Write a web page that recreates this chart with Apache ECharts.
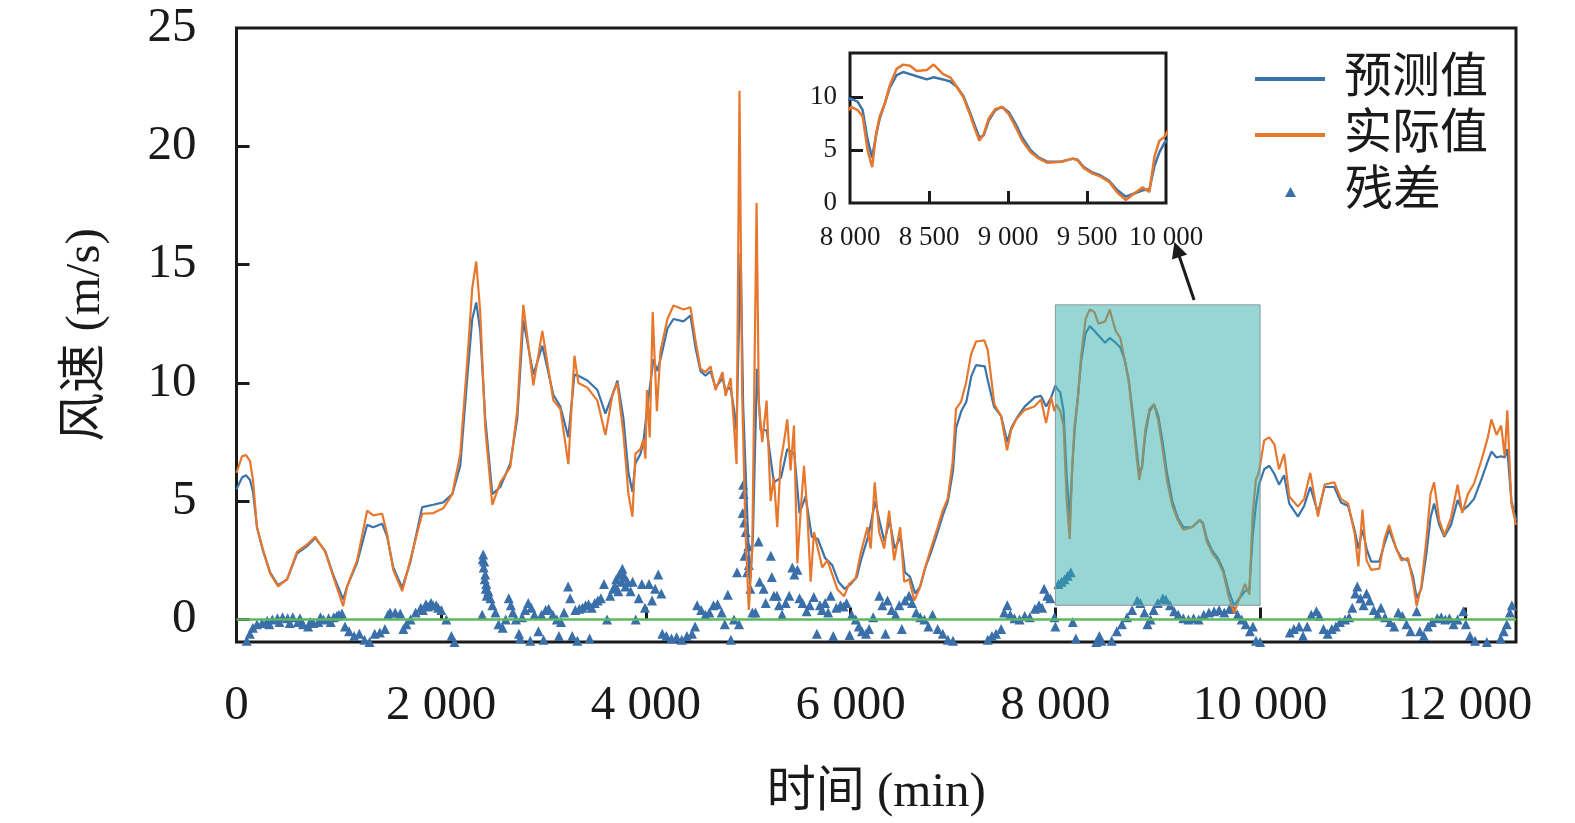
<!DOCTYPE html>
<html>
<head>
<meta charset="utf-8">
<script src="https://cdn.jsdelivr.net/npm/echarts@6/dist/echarts.min.js"></script>
<style>html,body{margin:0;padding:0;background:#fff}#c{width:1575px;height:823px}</style>
</head>
<body>
<div id="c"></div>
<script>
// ---- data (time in min, wind speed in m/s) ----
const xTickLabels = [0, 2000, 4000, 6000, 8000, 10000, 12000];
const yTickLabels = [0, 5, 10, 15, 20, 25];
const insetXTickLabels = [8000, 8500, 9000, 9500, 10000];
const insetYTickLabels = [0, 5, 10];
const seriesNames = ['预测值', '实际值', '残差'];

const actual = [
[0,6.2],[54,6.9],[93,6.95],[132,6.7],[161,5.9],[200,3.9],[259,2.96],[328,1.95],[406,1.4],[494,1.7],[592,2.87],[690,3.17],[768,3.5],[866,2.87],[944,1.83],[1042,0.57],[1081,1.4],[1178,2.5],[1276,4.6],[1335,4.4],[1423,4.47],[1472,3.6],[1531,2.1],[1619,1.2],[1697,2.5],[1814,4.47],[1922,4.5],[2020,4.7],[2108,5.3],[2186,7.0],[2254,10.9],[2303,14.0],[2342,15.13],[2381,13.0],[2430,8.1],[2499,4.85],[2577,5.8],[2675,6.44],[2743,8.84],[2802,13.3],[2900,9.9],[2988,12.2],[3095,9.26],[3164,8.9],[3242,6.57],[3301,11.15],[3340,10.0],[3428,9.8],[3526,9.25],[3604,7.8],[3673,9.5],[3721,10.0],[3780,7.84],[3829,5.3],[3868,4.35],[3897,7.0],[3946,7.2],[3975,7.6],[3995,6.8],[4010,9.7],[4037,7.7],[4066,13.0],[4107,8.8],[4142,11.35],[4210,12.7],[4269,13.27],[4367,13.1],[4435,13.2],[4484,11.8],[4533,10.6],[4582,10.45],[4631,10.7],[4680,9.7],[4748,10.45],[4778,9.45],[4827,10.2],[4856,8.46],[4885,6.57],[4914,22.35],[4940,9.5],[4973,3.7],[5005,0.4],[5039,3.0],[5081,17.6],[5103,9.1],[5136,7.5],[5179,9.25],[5218,5.0],[5250,6.0],[5283,3.9],[5315,6.65],[5348,7.5],[5381,8.46],[5413,6.3],[5446,8.2],[5479,2.37],[5511,4.55],[5544,6.5],[5576,4.55],[5609,1.6],[5642,3.7],[5674,3.1],[5723,2.2],[5772,2.5],[5821,1.9],[5870,1.28],[5935,0.98],[5984,1.5],[6049,1.74],[6098,2.8],[6164,3.9],[6196,3.0],[6235,5.8],[6278,3.7],[6327,3.0],[6376,4.6],[6425,2.5],[6484,3.9],[6523,1.6],[6572,1.7],[6621,0.8],[6670,1.28],[6719,2.07],[6784,3.0],[6850,3.9],[6899,4.6],[6947,5.1],[6996,6.65],[7029,8.9],[7078,9.2],[7127,10.0],[7176,11.2],[7225,11.75],[7306,11.8],[7339,11.4],[7404,9.1],[7469,8.6],[7528,7.15],[7567,8.0],[7616,8.45],[7697,8.85],[7795,9.0],[7860,9.3],[7909,8.3],[7958,9.4],[7990,8.8],
[8008,9.1],[8048,8.8],[8080,8.2],[8111,5.0],[8140,3.4],[8166,6.6],[8188,8.2],[8220,9.4],[8251,11.1],[8295,12.7],[8336,13.1],[8380,13.0],[8422,12.5],[8486,12.6],[8530,13.1],[8589,12.2],[8634,11.9],[8676,11.0],[8718,10.0],[8761,8.3],[8793,6.9],[8819,5.9],[8846,6.5],[8878,8.0],[8920,8.9],[8963,9.1],[9005,8.4],[9048,7.2],[9090,5.9],[9143,4.8],[9196,4.2],[9250,3.8],[9335,3.9],[9410,4.2],[9440,4.05],[9480,3.3],[9533,2.8],[9586,2.5],[9640,2.0],[9693,0.97],[9746,0.28],[9799,0.9],[9852,1.5],[9895,1.05],[9927,4.4],[9958,5.9],[9990,6.25],
[10040,7.57],[10090,7.7],[10140,7.4],[10185,6.35],[10235,7.0],[10285,5.2],[10370,4.77],[10430,5.1],[10490,6.2],[10565,4.35],[10630,5.7],[10725,5.8],[10790,5.1],[10860,4.9],[10925,3.6],[10960,2.25],[11000,4.65],[11040,2.5],[11085,2.1],[11165,2.15],[11215,3.4],[11260,4.0],[11330,3.0],[11380,2.5],[11445,2.6],[11495,1.55],[11530,0.57],[11575,1.4],[11625,3.4],[11665,5.3],[11700,5.8],[11750,4.2],[11800,3.56],[11865,4.3],[11930,5.7],[11975,4.5],[12030,5.3],[12090,5.75],[12160,6.7],[12225,7.7],[12260,8.46],[12310,7.8],[12355,8.2],[12390,6.9],[12415,8.84],[12455,4.9],[12500,4.0]
];

const predicted = [
[0,5.5],[54,6.0],[93,6.1],[132,5.9],[161,5.4],[200,3.9],[259,2.9],[328,2.0],[406,1.45],[494,1.7],[592,2.8],[690,3.1],[768,3.45],[866,2.9],[944,1.9],[1042,0.85],[1081,1.4],[1178,2.4],[1276,4.0],[1335,3.9],[1423,4.05],[1472,3.5],[1531,2.2],[1619,1.35],[1697,2.4],[1814,4.75],[1922,4.85],[2020,4.95],[2108,5.3],[2186,6.5],[2254,10.2],[2303,12.7],[2342,13.4],[2381,12.2],[2430,8.5],[2499,5.3],[2577,5.6],[2675,6.6],[2743,8.5],[2802,12.66],[2900,10.35],[2988,11.57],[3095,9.5],[3164,9.0],[3242,7.7],[3301,10.35],[3340,10.3],[3428,10.1],[3526,9.7],[3604,8.7],[3673,9.5],[3721,10.1],[3780,8.5],[3829,6.2],[3868,5.4],[3897,6.6],[3946,7.0],[3975,7.5],[4014,9.0],[4073,11.0],[4112,10.5],[4142,11.0],[4210,12.3],[4269,12.7],[4367,12.6],[4435,12.85],[4484,11.5],[4533,10.5],[4582,10.3],[4631,10.5],[4680,9.8],[4748,10.2],[4778,9.7],[4827,9.8],[4856,9.0],[4885,8.0],[4925,15.5],[4950,9.0],[4985,5.0],[5015,1.5],[5045,3.5],[5085,10.6],[5120,8.0],[5180,8.0],[5250,5.8],[5320,6.0],[5380,7.2],[5450,7.0],[5500,4.5],[5560,5.2],[5620,3.5],[5680,3.4],[5750,2.6],[5820,2.3],[5880,1.6],[5940,1.3],[6000,1.5],[6060,1.8],[6100,2.5],[6170,3.5],[6240,5.0],[6290,4.0],[6330,3.3],[6380,4.2],[6430,3.0],[6490,3.5],[6530,2.0],[6580,1.8],[6630,1.1],[6680,1.4],[6730,2.2],[6790,2.9],[6850,3.7],[6900,4.4],[6950,5.0],[7000,6.3],[7030,8.1],[7080,8.8],[7130,9.2],[7180,10.3],[7225,10.75],[7310,10.7],[7340,10.1],[7400,9.0],[7470,8.6],[7530,7.5],[7570,8.1],[7620,8.5],[7700,9.0],[7800,9.4],[7860,9.45],[7910,9.0],[7960,9.4],[8000,9.9],
[8008,9.8],[8048,9.6],[8080,8.8],[8111,6.0],[8140,4.3],[8166,6.5],[8188,8.0],[8220,9.4],[8251,10.9],[8295,12.1],[8336,12.4],[8380,12.2],[8422,12.0],[8486,11.7],[8530,11.9],[8589,11.7],[8634,11.5],[8676,11.0],[8718,10.1],[8761,8.5],[8793,7.2],[8819,6.2],[8846,6.4],[8878,7.8],[8920,8.8],[8963,9.1],[9005,8.6],[9048,7.5],[9090,6.2],[9143,5.0],[9196,4.3],[9250,3.9],[9335,3.9],[9410,4.2],[9440,4.1],[9480,3.4],[9533,2.9],[9586,2.6],[9640,2.1],[9693,1.2],[9746,0.6],[9799,0.9],[9852,1.2],[9895,1.3],[9927,3.5],[9958,4.8],[9990,5.7],
[10040,6.35],[10090,6.5],[10140,6.15],[10185,5.7],[10235,6.1],[10285,4.9],[10370,4.35],[10430,4.8],[10490,5.6],[10565,4.5],[10630,5.6],[10725,5.6],[10790,4.95],[10860,4.8],[10925,3.75],[10960,3.0],[11000,3.8],[11040,3.0],[11085,2.45],[11165,2.45],[11215,3.2],[11260,3.8],[11330,3.0],[11380,2.6],[11445,2.5],[11495,1.8],[11530,0.9],[11575,1.3],[11625,2.8],[11665,4.3],[11700,4.9],[11750,4.0],[11800,3.5],[11865,4.0],[11930,5.05],[11975,4.6],[12030,4.8],[12090,5.1],[12160,5.9],[12225,6.7],[12260,7.1],[12310,6.85],[12355,6.9],[12390,6.85],[12415,7.2],[12455,5.0],[12500,4.2]
];

const residual = [
[0,-1.3],[50,-1.1],[100,-0.9],[130,-0.6],[160,-0.35],[200,-0.2],[250,-0.15],[300,-0.05],[320,-0.2],[350,0.0],[400,0.05],[420,-0.1],[450,0.1],[500,0.05],[520,-0.15],[550,0.1],[600,-0.1],[620,0.05],[650,-0.2],[700,-0.3],[720,-0.1],[750,-0.15],[800,-0.1],[820,0.1],[850,0.0],[900,0.05],[920,-0.1],[950,0.1],[980,0.15],[1000,0.2],[1030,0.25],[1060,-0.3],[1100,-0.5],[1150,-0.7],[1200,-0.6],[1250,-0.85],[1300,-0.95],[1350,-0.6],[1400,-0.55],[1450,-0.4],[1480,0.2],[1500,0.3],[1550,0.3],[1600,0.25],[1630,-0.4],[1660,-0.2],[1700,0.0],[1750,0.3],[1800,0.5],[1820,0.4],[1850,0.65],[1870,0.55],[1900,0.7],[1920,0.6],[1950,0.6],[1970,0.5],[2000,0.4],[2050,0.0],[2100,-0.7],[2130,-0.95],
[2400,0.2],[2405,2.55],[2410,2.75],[2415,2.2],[2420,2.45],[2425,1.7],[2430,1.9],[2435,1.3],[2440,1.5],[2445,1.0],[2460,1.2],[2480,0.9],[2500,0.6],[2530,0.3],[2560,-0.2],[2600,-0.35],[2630,0.0],[2660,0.9],[2680,0.6],[2700,0.3],[2730,0.0],[2760,-0.6],[2770,-0.8],[2790,0.1],[2820,0.4],[2850,0.7],[2870,-0.9],[2880,0.5],[2910,0.2],[2950,-0.5],[2980,0.2],[3000,-0.85],[3020,0.4],[3050,0.45],[3090,0.2],[3130,0.0],[3150,-0.7],[3170,-0.1],[3200,0.3],[3240,1.4],[3260,0.9],[3280,-0.7],[3310,0.4],[3330,-0.9],[3350,0.45],[3380,0.5],[3410,0.6],[3440,0.65],[3450,-0.8],[3470,0.5],[3500,0.7],[3530,0.8],[3560,0.9],[3590,1.5],[3620,0.0],[3650,1.0],[3680,1.3],[3700,1.4],[3710,1.7],[3730,1.2],[3740,1.9],[3760,1.6],[3770,2.15],[3780,1.9],[3790,1.8],[3800,1.4],[3820,1.6],[3850,1.2],[3870,1.6],[3900,0.0],[3930,0.9],[3960,1.5],[3990,0.5],[4030,1.5],[4060,0.8],[4090,1.3],[4120,1.9],[4150,1.1],[4160,-0.6],[4200,-0.7],[4250,-0.8],[4300,-0.75],[4350,-0.85],[4400,-0.7],[4450,-0.6],[4480,-0.3],[4500,0.6],[4540,0.4],[4580,0.2],[4620,0.3],[4660,0.6],[4700,0.65],[4740,0.3],[4770,-0.2],[4800,1.05],[4830,-0.85],[4860,0.0],[4890,2.0],[4910,-0.2],[4945,4.5],[4950,5.7],[4955,5.3],[4960,4.1],[4965,2.7],[4975,3.7],[4990,2.0],[5000,3.1],[5005,2.3],[5020,1.3],[5040,0.3],[5070,0.3],[5100,3.3],[5110,1.6],[5150,1.3],[5170,0.7],[5220,2.7],[5230,1.8],[5250,1.0],[5280,1.0],[5300,0.6],[5330,0.2],[5365,0.7],[5400,1.0],[5430,2.2],[5450,1.9],[5480,2.1],[5500,0.9],[5530,0.7],[5570,0.35],[5600,0.6],[5640,0.95],[5670,-0.6],[5700,0.6],[5720,0.4],[5750,0.7],[5780,0.3],[5805,1.0],[5830,-0.7],[5860,0.5],[5900,0.6],[5930,0.55],[5960,0.7],[5990,-0.65],[6010,0.2],[6050,0.0],[6080,-0.3],[6110,-0.5],[6150,-0.6],[6180,-0.4],[6220,0.1],[6280,1.0],[6310,0.6],[6340,-0.6],[6360,0.8],[6400,0.4],[6440,0.2],[6475,0.6],[6500,-0.4],[6530,0.8],[6570,1.0],[6600,0.7],[6640,0.3],[6680,0.1],[6720,0.0],[6760,-0.3],[6800,0.2],[6850,-0.4],[6900,-0.6],[6950,-0.85],[7000,-0.9],
[7340,-0.85],[7380,-0.7],[7420,-0.6],[7470,-0.4],[7500,0.3],[7530,0.6],[7560,0.2],[7600,0.05],[7650,0.0],[7700,0.15],[7750,0.1],[7800,0.45],[7840,0.6],[7870,0.5],[7890,1.3],[7920,1.0],[7950,0.9],[7990,0.1],[8000,-0.3],[8030,1.5],[8060,1.6],[8090,1.7],[8120,1.85],[8150,2.0],[8170,-0.1],[8200,-0.8],
[8400,-0.95],[8430,-0.7],[8450,-0.9],[8550,-0.9],[8600,-0.5],[8650,-0.2],[8700,0.1],[8750,0.4],[8800,0.8],[8830,0.7],[8870,0.3],[8900,-0.2],[8930,0.0],[8960,0.4],[9000,0.7],[9050,0.9],[9080,0.85],[9120,0.6],[9160,0.35],[9200,0.2],[9250,0.05],[9300,0.0],[9350,0.05],[9400,0.0],[9450,0.2],[9500,0.3],[9550,0.35],[9600,0.4],[9650,0.3],[9700,0.45],[9735,0.45],[9780,0.2],[9820,0.0],[9860,-0.2],[9900,-0.5],[9930,-0.3],[9960,-0.9],[10000,-0.95],
[10290,-0.55],[10330,-0.4],[10380,-0.3],[10420,-0.7],[10460,-0.3],[10500,0.2],[10550,0.35],[10580,0.15],[10620,-0.4],[10660,-0.6],[10700,-0.4],[10740,-0.3],[10780,-0.1],[10830,0.0],[10870,0.1],[10900,0.5],[10930,1.1],[10950,1.4],[10980,0.9],[11010,0.6],[11040,1.1],[11070,0.8],[11110,0.4],[11150,0.2],[11180,0.5],[11220,0.1],[11270,-0.1],[11310,-0.3],[11350,0.3],[11390,0.15],[11430,-0.2],[11470,-0.5],[11530,0.35],[11560,-0.5],[11600,-0.7],[11640,-0.3],[11680,-0.1],[11730,0.05],[11770,0.1],[11810,0.0],[11850,0.05],[11890,-0.2],[11930,0.0],[11985,0.35],[12010,-0.2],[12050,-0.7],[12100,-0.9],[12215,-0.95],[12350,-0.8],[12380,-0.5],[12410,-0.2],[12440,0.3],[12460,0.6]
];

const zoomBox = [[8000, 0.6], [10000, 13.3]];
const arrowFromTo = [[9355, 13.5], [9188, 15.64]];

// ---- styling ----
const SERIF = 'Liberation Serif';
const CJK = 'Liberation Serif, Noto Sans CJK SC';
const BLUE = '#3a74ab', ORANGE = '#e8772e', TRI = '#3a6faa', BLACK = '#1a1a1a';
const fmt = v => String(v).replace(/\B(?=(\d{3})+(?!\d))/g, ' ');
const legendText = {fontFamily: CJK, fontSize: 48, lineHeight: 48, color: BLACK};

const chart = echarts.init(document.getElementById('c'), null, {renderer: 'canvas'});
chart.setOption({
  animation: false,
  backgroundColor: '#fff',
  grid: [
    {left: 236.5, right: 59, top: 28, bottom: 176, show: true, borderColor: BLACK, borderWidth: 3, backgroundColor: 'transparent'},
    {left: 850, right: 409, top: 53, bottom: 620, show: true, borderColor: BLACK, borderWidth: 3, backgroundColor: '#fff', z: 20}
  ],
  legend: [
    {left: 1250, top: 50, orient: 'vertical', itemWidth: 70, itemHeight: 4, itemGap: 8, icon: 'rect',
     data: seriesNames.slice(0, 2),
     textStyle: Object.assign({padding: [0, 0, 0, 14]}, legendText)},
    {left: 1280, top: 163, orient: 'vertical', itemWidth: 11, itemHeight: 10, icon: 'triangle',
     data: seriesNames.slice(2),
     textStyle: Object.assign({padding: [0, 0, 0, 44]}, legendText)}
  ],
  xAxis: [
    {type: 'value', gridIndex: 0, min: 0, max: 12500, splitLine: {show: false}, axisLine: {show: false},
     axisTick: {show: true, inside: true, length: 12, lineStyle: {width: 3, color: BLACK}, customValues: xTickLabels.slice(1)},
     axisLabel: {customValues: xTickLabels, formatter: fmt, fontFamily: SERIF, fontSize: 49, color: BLACK, margin: 40},
     name: '时间 (min)', nameLocation: 'middle', nameGap: 127, nameTextStyle: {fontFamily: CJK, fontSize: 49, color: BLACK}},
    {type: 'value', gridIndex: 1, min: 8000, max: 10000, splitLine: {show: false}, axisLine: {show: false},
     axisTick: {show: true, inside: true, length: 12, lineStyle: {width: 3, color: BLACK}, customValues: insetXTickLabels.slice(1, -1)},
     axisLabel: {customValues: insetXTickLabels, formatter: fmt, fontFamily: SERIF, fontSize: 27, color: BLACK, margin: 21}, z: 20}
  ],
  yAxis: [
    {type: 'value', gridIndex: 0, min: -0.95, max: 25, splitLine: {show: false}, axisLine: {show: false},
     axisTick: {show: true, inside: true, length: 13, lineStyle: {width: 3, color: BLACK}, customValues: yTickLabels.slice(0, -1)},
     axisLabel: {customValues: yTickLabels, fontFamily: SERIF, fontSize: 49, color: BLACK, margin: 40},
     name: '风速 (m/s)', nameLocation: 'middle', nameGap: 126, nameRotate: 90, nameTextStyle: {fontFamily: CJK, fontSize: 49, color: BLACK}},
    {type: 'value', gridIndex: 1, min: 0, max: 14.2, splitLine: {show: false}, axisLine: {show: false},
     axisTick: {show: true, inside: true, length: 13, lineStyle: {width: 3, color: BLACK}, customValues: insetYTickLabels.slice(1)},
     axisLabel: {customValues: insetYTickLabels, fontFamily: SERIF, fontSize: 27, color: BLACK, margin: 13}, z: 20}
  ],
  series: [
    {name: seriesNames[0], type: 'line', xAxisIndex: 0, yAxisIndex: 0, data: predicted, symbol: 'none',
     lineStyle: {color: BLUE, width: 2.2}, itemStyle: {color: BLUE}, z: 2},
    {name: seriesNames[1], type: 'line', xAxisIndex: 0, yAxisIndex: 0, data: actual, symbol: 'none',
     lineStyle: {color: ORANGE, width: 2.2}, itemStyle: {color: ORANGE}, z: 3},
    {name: seriesNames[2], type: 'scatter', xAxisIndex: 0, yAxisIndex: 0, data: residual, symbol: 'triangle', symbolSize: 10,
     itemStyle: {color: TRI, opacity: 1}, z: 1, clip: true,
     markLine: {silent: true, symbol: 'none', label: {show: false}, z: 4,
       lineStyle: {color: '#5cb85c', width: 2.5, type: 'solid'}, data: [{yAxis: 0}]}},
    {name: 'box', type: 'line', xAxisIndex: 0, yAxisIndex: 0, data: [],
     markArea: {silent: true, z: 10, itemStyle: {color: 'rgba(50,172,172,0.5)', borderColor: '#8a9a9a', borderWidth: 1},
       data: [[{coord: zoomBox[0]}, {coord: zoomBox[1]}]]},
     markLine: {silent: true, z: 10, symbol: ['none', 'triangle'], symbolSize: 16, label: {show: false},
       lineStyle: {color: BLACK, width: 3, type: 'solid'}, itemStyle: {color: BLACK},
       data: [[{coord: arrowFromTo[0]}, {coord: arrowFromTo[1]}]]}},
    {name: seriesNames[0], type: 'line', xAxisIndex: 1, yAxisIndex: 1, data: predicted, symbol: 'none',
     lineStyle: {color: BLUE, width: 2.5}, z: 21, clip: true},
    {name: seriesNames[1], type: 'line', xAxisIndex: 1, yAxisIndex: 1, data: actual, symbol: 'none',
     lineStyle: {color: ORANGE, width: 2.5}, z: 22, clip: true}
  ]
});
</script>
</body>
</html>
